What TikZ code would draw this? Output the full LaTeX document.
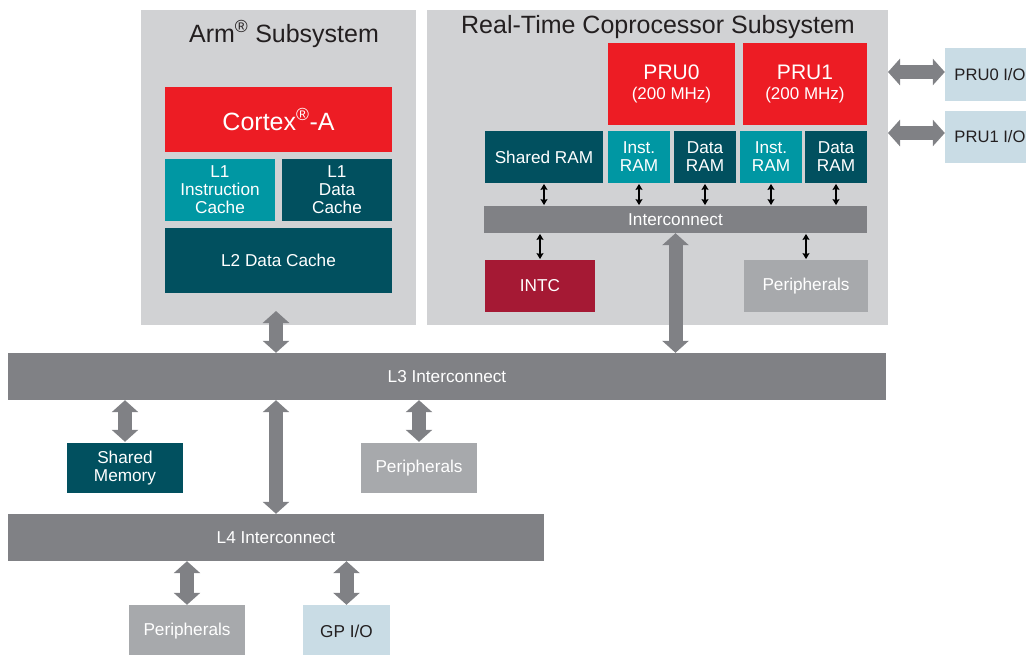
\documentclass[tikz,border=0pt]{standalone}
\usepackage{fontspec}
\setmainfont{Liberation Sans}
\usetikzlibrary{arrows.meta}
\definecolor{subgray}{HTML}{D1D2D4}
\definecolor{tired}{HTML}{ED1C24}
\definecolor{tealL}{HTML}{0097A3}
\definecolor{tealD}{HTML}{01505F}
\definecolor{bargray}{HTML}{808185}
\definecolor{intcred}{HTML}{A51934}
\definecolor{pergray}{HTML}{A7A9AC}
\definecolor{ioblue}{HTML}{C9DCE5}
\definecolor{txtdark}{HTML}{231F20}
\tikzset{
  box/.style={inner sep=0pt, align=center, text=white, font=\fontsize{17.2}{18}\selectfont},
  subbox/.style={inner sep=0pt, fill=subgray},
  titletext/.style={inner sep=0pt, text=txtdark, font=\fontsize{25}{26}\selectfont},
  bigarr/.style={draw=bargray, line width=14pt, {Triangle[width=26pt,length=12pt]}-{Triangle[width=26pt,length=12pt]}},
  smallarr/.style={draw=black, line width=2pt, {Stealth[length=6pt,width=7pt,inset=1pt]}-{Stealth[length=6pt,width=7pt,inset=1pt]}, shorten <=0.7pt, shorten >=0.7pt},
}
\begin{document}
\begin{tikzpicture}[x=1pt,y=-1pt]
\useasboundingbox (0,0) rectangle (1026,654);
\clip (0,0) rectangle (1026,654);
% subsystems
\node[subbox, minimum width=275pt, minimum height=315pt] (armsub) at (278.5,167.5) {};
\node[subbox, minimum width=461pt, minimum height=315pt] (rtsub) at (657.5,167.5) {};
\node[titletext, anchor=base] (armtitle) at (284,42) {Arm\textsuperscript{\textregistered} Subsystem};
\node[titletext, anchor=base] (rttitle) at (658,33) {Real-Time Coprocessor Subsystem};
% Arm blocks
\node[box, fill=tired, minimum width=227pt, minimum height=65pt, font=\fontsize{25}{26}\selectfont] (cortex) at (278.5,119.5) {Cortex\textsuperscript{\textregistered}-A};
\node[box, fill=tealL, minimum width=110pt, minimum height=62pt] (l1i) at (220,190) {L1\\Instruction\\Cache};
\node[box, fill=tealD, minimum width=110pt, minimum height=62pt] (l1d) at (337,190) {L1\\Data\\Cache};
\node[box, fill=tealD, minimum width=227pt, minimum height=65pt] (l2) at (278.5,260.5) {L2 Data Cache};
% PRU blocks
\node[box, fill=tired, minimum width=127pt, minimum height=82pt, font=\fontsize{17}{20}\selectfont] (pru0) at (671.5,84) {{\fontsize{21}{20}\selectfont PRU0}\\(200 MHz)};
\node[box, fill=tired, minimum width=124pt, minimum height=82pt, font=\fontsize{17}{20}\selectfont] (pru1) at (805,84) {{\fontsize{21}{20}\selectfont PRU1}\\(200 MHz)};
\node[box, fill=tealD, minimum width=118pt, minimum height=52pt] (sram) at (544,157) {Shared RAM};
\node[box, fill=tealL, minimum width=62pt, minimum height=52pt] (iram0) at (639,157) {Inst.\\RAM};
\node[box, fill=tealD, minimum width=62pt, minimum height=52pt] (dram0) at (705,157) {Data\\RAM};
\node[box, fill=tealL, minimum width=62pt, minimum height=52pt] (iram1) at (771,157) {Inst.\\RAM};
\node[box, fill=tealD, minimum width=62pt, minimum height=52pt] (dram1) at (836,157) {Data\\RAM};
\node[box, fill=bargray, minimum width=383pt, minimum height=27pt] (ic) at (675.5,219.5) {Interconnect};
\node[box, fill=intcred, minimum width=110pt, minimum height=52pt] (intc) at (540,286) {INTC};
\node[box, fill=pergray, minimum width=124pt, minimum height=52pt] (rtper) at (806,286) {Peripherals};
% PRU I/O
\node[box, fill=ioblue, text=txtdark, minimum width=90pt, minimum height=53pt, font=\fontsize{16.6}{18}\selectfont] (pru0io) at (990,74.5) {PRU0 I/O};
\node[box, fill=ioblue, text=txtdark, minimum width=90pt, minimum height=52pt, font=\fontsize{16.6}{18}\selectfont] (pru1io) at (990,137) {PRU1 I/O};
% Interconnects
\node[box, fill=bargray, minimum width=878pt, minimum height=47pt] (l3) at (447,376.5) {L3 Interconnect};
\node[box, fill=tealD, minimum width=116pt, minimum height=50pt] (shm) at (125,468) {Shared\\Memory};
\node[box, fill=pergray, minimum width=116pt, minimum height=50pt] (l3per) at (419,468) {Peripherals};
\node[box, fill=bargray, minimum width=536pt, minimum height=47pt] (l4) at (276,537.5) {L4 Interconnect};
\node[box, fill=pergray, minimum width=116pt, minimum height=52pt] (l4per) at (187,631) {Peripherals};
\node[box, fill=ioblue, text=txtdark, minimum width=87pt, minimum height=52pt] (gpio) at (346.5,631) {GP I/O};
% small arrows
\foreach \n in {sram,iram0,dram0,iram1,dram1}
  \draw[smallarr] (\n.south) -- (\n.south |- ic.north);
\draw[smallarr] (intc.north |- ic.south) -- (intc.north);
\draw[smallarr] (rtper.north |- ic.south) -- (rtper.north);
% big arrows
\coordinate (armout) at (276,311);
\draw[bigarr] (armout) -- (armout |- l3.north);
\draw[bigarr] (ic.south) -- (ic.south |- l3.north);
\draw[bigarr] (l4.north |- l3.south) -- (l4.north);
\draw[bigarr] (shm.north |- l3.south) -- ([yshift=1pt]shm.north);
\draw[bigarr] (l3per.north |- l3.south) -- ([yshift=1pt]l3per.north);
\draw[bigarr] (l4per.north |- l4.south) -- (l4per.north);
\draw[bigarr] (gpio.north |- l4.south) -- (gpio.north);
\coordinate (io0) at (888,72);
\coordinate (io1) at (888,133);
\draw[bigarr] (io0) -- (io0 -| pru0io.west);
\draw[bigarr] (io1) -- (io1 -| pru1io.west);
\end{tikzpicture}
\end{document}
